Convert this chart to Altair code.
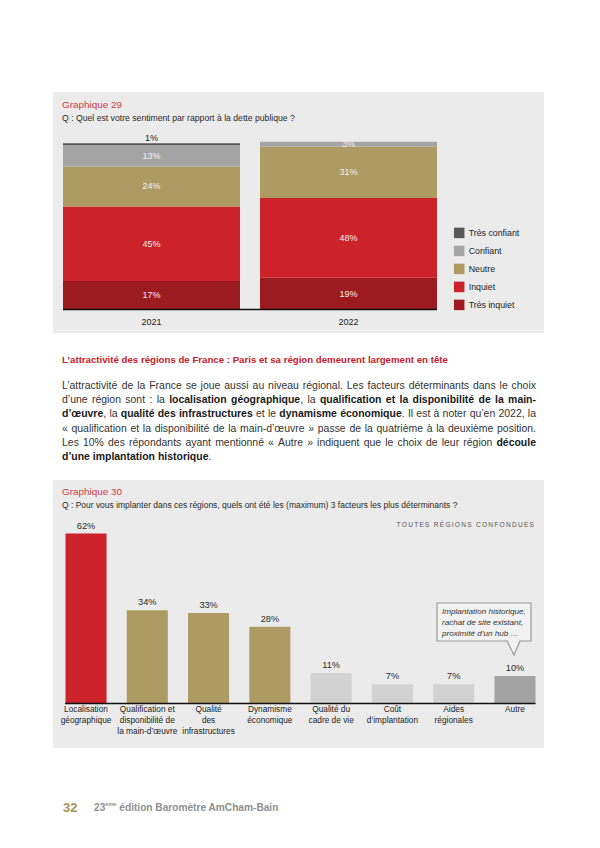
import altair as alt
import pandas as pd

# ---------------- data ----------------
annees = ["2021", "2022"]
sentiments = ["Très confiant", "Confiant", "Neutre", "Inquiet", "Très inquiet"]
valeurs_2021 = [1, 13, 24, 45, 17]
valeurs_2022 = [0, 3, 31, 48, 19]
couleurs_sentiments = ["#585858", "#a4a4a4", "#ae9b63", "#cc2229", "#9c1b20"]

facteurs = [
    "Localisation\ngéographique",
    "Qualification et\ndisponibilité de\nla main-d’œuvre",
    "Qualité\ndes\ninfrastructures",
    "Dynamisme\néconomique",
    "Qualité du\ncadre de vie",
    "Coût\nd’implantation",
    "Aides\nrégionales",
    "Autre",
]
pourcentages = [62, 34, 33, 28, 11, 7, 7, 10]
groupes = ["premier", "majeur", "majeur", "majeur", "secondaire", "secondaire", "secondaire", "autre"]
groupes_domaine = ["premier", "majeur", "secondaire", "autre"]
couleurs_groupes = ["#cc2229", "#ae9b63", "#d2d2d2", "#a3a3a3"]

titre_29 = "Graphique 29"
question_29 = "Q : Quel est votre sentiment par rapport à la dette publique ?"
titre_30 = "Graphique 30"
question_30 = "Q : Pour vous implanter dans ces régions, quels ont été les (maximum) 3 facteurs les plus déterminants ?"
sous_titre_30 = "TOUTES RÉGIONS CONFONDUES"
intertitre = "L’attractivité des régions de France : Paris et sa région demeurent largement en tête"
paragraphe = [
    [("L’attractivité de la France se joue aussi au niveau régional. Les facteurs déterminants dans le choix", False)],
    [("d’une région sont : la ", False), ("localisation géographique", True), (", la ", False),
     ("qualification et la disponibilité de la main-", True)],
    [("d’œuvre", True), (", la ", False), ("qualité des infrastructures", True), (" et le ", False),
     ("dynamisme économique", True), (". Il est à noter qu’en 2022, la", False)],
    [("« qualification et la disponibilité de la main-d’œuvre » passe de la quatrième à la deuxième position.", False)],
    [("Les 10% des répondants ayant mentionné « Autre » indiquent que le choix de leur région ", False),
     ("découle", True)],
    [("d’une implantation historique", True), (".", False)],
]
bulle = ["Implantation historique,", "rachat de site existant,", "proximité d’un hub …"]
numero_page = "32"
pied = ["23", "ème", "édition Baromètre AmCham-Bain"]

FONT = "Liberation Sans"

# ---------------- text metrics (Arial / Liberation Sans) ----------------
REG, BOLD = {}, {}
for ch, w in zip("ABCDEFGHIJKLMNOPQRSTUVWXYZ",
                 [667, 667, 722, 722, 667, 611, 778, 722, 278, 500, 667, 556, 833, 722, 778, 667, 778, 722, 667, 611, 722, 667, 944, 667, 667, 611]):
    REG[ch] = w
for ch, w in zip("abcdefghijklmnopqrstuvwxyz",
                 [556, 556, 500, 556, 556, 278, 556, 556, 222, 222, 500, 222, 833, 556, 556, 556, 556, 333, 500, 278, 556, 500, 722, 500, 500, 500]):
    REG[ch] = w
for ch, w in zip("ABCDEFGHIJKLMNOPQRSTUVWXYZ",
                 [722, 722, 722, 722, 667, 611, 778, 722, 278, 556, 722, 611, 833, 722, 778, 667, 778, 722, 667, 611, 722, 667, 944, 667, 667, 611]):
    BOLD[ch] = w
for ch, w in zip("abcdefghijklmnopqrstuvwxyz",
                 [556, 611, 556, 611, 556, 333, 611, 611, 278, 278, 556, 278, 889, 611, 611, 611, 611, 389, 556, 333, 611, 556, 778, 556, 556, 500]):
    BOLD[ch] = w
REG.update({" ": 278, ".": 278, ",": 278, ":": 278, ";": 278, "%": 889, "’": 222, "'": 191, "-": 333,
            "«": 556, "»": 556, "?": 556, "(": 333, ")": 333, "…": 1000, "œ": 944})
BOLD.update({" ": 278, ".": 278, ",": 278, ":": 333, ";": 333, "%": 889, "’": 278, "'": 238, "-": 333,
             "«": 556, "»": 556, "?": 611, "(": 333, ")": 333, "…": 1000, "œ": 944})
ACC = {"é": "e", "è": "e", "ê": "e", "ë": "e", "à": "a", "â": "a", "ô": "o", "û": "u", "ù": "u",
       "î": "i", "ï": "i", "ç": "c", "É": "E", "È": "E"}


def units(s, bold=False):
    tab = BOLD if bold else REG
    return sum(tab.get(ACC.get(c, c), 556) for c in s)


def fit(s, width, bold=False):
    return width * 1000.0 / units(s, bold)


def P(v):
    return v - 8


def txt_layer(rows, size, color, weight="normal", align="left", baseline="middle", italic=False, dy=0):
    df = pd.DataFrame(rows, columns=["x", "y", "t"])
    return alt.Chart(df).mark_text(
        align=align, baseline=baseline, fontSize=size, color=color, fontWeight=weight,
        fontStyle="italic" if italic else "normal", font=FONT, dy=dy
    ).encode(
        x=alt.X("x:Q", scale=None, axis=None),
        y=alt.Y("y:Q", scale=None, axis=None),
        text="t:N",
    )


one = pd.DataFrame({"k": [0]})


def rect(x1, x2, y1, y2, fill, stroke=None, sw=0):
    kw = dict(fill=fill)
    if stroke:
        kw.update(stroke=stroke, strokeWidth=sw)
    return alt.Chart(one).mark_rect(**kw).encode(
        x=alt.value(P(x1)), x2=alt.value(P(x2)), y=alt.value(P(y1)), y2=alt.value(P(y2)))


def rule(x1, x2, y, color="#111111", sw=1.5):
    return alt.Chart(one).mark_rule(color=color, strokeWidth=sw).encode(
        x=alt.value(P(x1)), x2=alt.value(P(x2)), y=alt.value(P(y)))


# ---------------- panels ----------------
PANEL = "#ebebeb"
panel1 = rect(53, 544, 92, 333, PANEL)
panel2 = rect(53, 544, 480, 748, PANEL)

# ---------------- chart 29 ----------------
rows29 = []
for annee, vals in zip(annees, [valeurs_2021, valeurs_2022]):
    cum = 0
    for i in reversed(range(len(sentiments))):
        v = vals[i]
        rows29.append(dict(annee=annee, sentiment=sentiments[i], valeur=v, debut=cum, fin=cum + v,
                           milieu=cum + v / 2, etiquette=f"{v}%"))
        cum += v
df29 = pd.DataFrame(rows29)

x29 = alt.X("annee:N", scale=alt.Scale(domain=annees, range=[P(63), P(437)], paddingInner=0.1015, paddingOuter=0),
            axis=None)
y29 = alt.Scale(domain=[0, 100], range=[P(309.3), P(143.3)])

bars29 = alt.Chart(df29[df29.valeur > 0]).mark_bar().encode(
    x=x29,
    y=alt.Y("debut:Q", scale=y29, axis=None),
    y2="fin:Q",
    color=alt.Color("sentiment:N", scale=alt.Scale(domain=sentiments, range=couleurs_sentiments),
                    legend=alt.Legend(title=None, orient="none", legendX=P(453.7), legendY=P(227.4),
                                      symbolType="square", symbolSize=110, symbolStrokeWidth=0,
                                      symbolOpacity=1, labelFontSize=8.8, labelFont=FONT,
                                      labelColor="#222222", rowPadding=7, labelOffset=4, padding=0)),
)
lab_in = alt.Chart(df29[df29.valeur >= 3]).mark_text(fontSize=9, color="#f4eeee", font=FONT, fontWeight="normal",
                                                     baseline="middle").encode(
    x=x29, y=alt.Y("milieu:Q", scale=y29, axis=None), text="etiquette:N")
lab_top = alt.Chart(df29[(df29.valeur > 0) & (df29.valeur < 3)]).mark_text(
    fontSize=9, color="#222222", font=FONT, fontWeight="normal", baseline="middle", dy=-5).encode(
    x=x29, y=alt.Y("fin:Q", scale=y29, axis=None), text="etiquette:N")
years = alt.Chart(pd.DataFrame({"annee": annees})).mark_text(fontSize=9, color="#222222", font=FONT,
                                                              fontWeight="normal", baseline="middle").encode(
    x=x29, y=alt.value(P(321.7)), text="annee:N")
layer29 = alt.layer(bars29, lab_in, lab_top, years)
axis29 = rule(63, 437, 309.5)

# ---------------- chart 30 ----------------
df30 = pd.DataFrame({"facteur": facteurs, "pct": pourcentages, "groupe": groupes,
                     "etiquette": [f"{v}%" for v in pourcentages]})
x30 = alt.X("facteur:N", sort=facteurs,
            scale=alt.Scale(domain=facteurs, range=[P(65.5), P(535.5)], paddingInner=0.33, paddingOuter=0),
            axis=None)
y30 = alt.Scale(domain=[0, 100], range=[P(703.5), P(703.5 - 274)])
bars30 = alt.Chart(df30).mark_bar().encode(
    x=x30, y=alt.Y("pct:Q", scale=y30, axis=None),
    color=alt.Color("groupe:N", scale=alt.Scale(domain=groupes_domaine, range=couleurs_groupes), legend=None))
val30 = alt.Chart(df30).mark_text(fontSize=9.2, color="#2a2a2a", font=FONT, fontWeight="normal",
                                  baseline="middle", dy=-8).encode(
    x=x30, y=alt.Y("pct:Q", scale=y30, axis=None), text="etiquette:N")
cat30 = alt.Chart(df30).mark_text(fontSize=8.3, color="#222222", font=FONT, fontWeight="normal", baseline="top",
                                  lineBreak="\n", lineHeight=11).encode(
    x=x30, y=alt.value(P(704.5)), text="facteur:N")
layer30 = alt.layer(bars30, val30, cat30)
axis30 = rule(65, 535.5, 703.5)

# ---------------- callout ----------------
BOX = "#f1f1f1"
BORDER = "#9a9a9a"
box = rect(437, 531, 603, 641, BOX, BORDER, 1.2)
tail_df = pd.DataFrame({"x": [P(507), P(514), P(520)], "y": [P(641), P(655), P(641)], "y2": [P(641)] * 3})
tail_fill = alt.Chart(tail_df).mark_area(color=BOX).encode(
    x=alt.X("x:Q", scale=None, axis=None), y=alt.Y("y:Q", scale=None, axis=None), y2="y2:Q")
tail_cover = rect(507.6, 519.4, 639.8, 642.2, BOX)
tail_line = alt.Chart(tail_df).mark_line(color=BORDER, strokeWidth=1.2).encode(
    x=alt.X("x:Q", scale=None, axis=None), y=alt.Y("y:Q", scale=None, axis=None))
s_bulle = fit(bulle[0], 84)
bulle_txt = txt_layer([(P(442), P(612 + 11 * i), t) for i, t in enumerate(bulle)], s_bulle, "#333333", italic=True)

# ---------------- titles ----------------
RED_T = "#cf3a43"
t29 = txt_layer([(P(62), P(105), titre_29)], fit(titre_29, 60), RED_T)
q29 = txt_layer([(P(62), P(118), question_29)], fit(question_29, 233), "#2a2a2a")
t30 = txt_layer([(P(62), P(492), titre_30)], fit(titre_30, 60), RED_T)
q30 = txt_layer([(P(62), P(505), question_30)], fit(question_30, 396), "#2a2a2a")

# letter-spaced subtitle, right edge at 534
s_sub = 6.6
nat = units(sous_titre_30) * s_sub / 1000
ls = (137.5 - nat) / (len(sous_titre_30) - 1)
sub_rows = []
xc = P(534) - 137.5
for c in sous_titre_30:
    if c != " ":
        sub_rows.append((xc, P(525), c))
    xc += units(c) * s_sub / 1000 + ls
sub30 = txt_layer(sub_rows, s_sub, "#555555")

# heading
head = txt_layer([(P(62), P(360), intertitre)], fit(intertitre, 387, True), "#c8202b", weight="bold")

# justified paragraph
W = 474
max_units = max(sum(units(t, b) for t, b in runs) for runs in paragraphe[:-1])
size_p = 0.99 * W * 1000 / max_units
reg_rows, bold_rows = [], []
for li, runs in enumerate(paragraphe):
    chars = [(c, b) for t, b in runs for c in t]
    words, cur = [], []
    for c, b in chars:
        if c == " ":
            if cur:
                words.append(cur)
                cur = []
        else:
            cur.append((c, b))
    if cur:
        words.append(cur)
    wruns = []
    for w in words:
        rr = []
        for c, b in w:
            if rr and rr[-1][1] == b:
                rr[-1][0] += c
            else:
                rr.append([c, b])
        wruns.append(rr)
    wwidth = [sum(units(t, b) for t, b in rr) * size_p / 1000 for rr in wruns]
    if li == len(paragraphe) - 1 or len(wruns) == 1:
        gap = 278 * size_p / 1000
    else:
        gap = (W - sum(wwidth)) / (len(wruns) - 1)
    xx = P(62)
    yy = P(386 + 14.2 * li)
    for rr, ww in zip(wruns, wwidth):
        xr = xx
        for t, b in rr:
            (bold_rows if b else reg_rows).append((xr, yy, t))
            xr += units(t, b) * size_p / 1000
        xx += ww + gap
para_reg = txt_layer(reg_rows, size_p, "#333333")
para_bold = txt_layer(bold_rows, size_p, "#1a1a1a", weight="bold")

# footer
num = txt_layer([(P(63), P(807.5), numero_page)], 13, "#a8935a", weight="bold")
tot_units = units(pied[0], True) + units(" " + pied[2], True) + 0.55 * units(pied[1], True)
s_f = 185 * 1000 / tot_units
x_f = P(94)
x_sup = x_f + units(pied[0], True) * s_f / 1000
x_rest = x_sup + 0.55 * units(pied[1], True) * s_f / 1000 + units(" ", True) * s_f / 1000
foot1 = txt_layer([(x_f, P(807.5), pied[0]), (x_rest, P(807.5), pied[2])], s_f, "#8f8f8f", weight="bold")
foot2 = txt_layer([(x_sup, P(807.5 - 0.35 * s_f), pied[1])], 0.55 * s_f, "#8f8f8f", weight="bold")

chart = alt.layer(
    panel1, panel2,
    layer29, axis29,
    layer30, axis30,
    box, tail_fill, tail_cover, tail_line, bulle_txt,
    t29, q29, t30, q30, sub30, head, para_reg, para_bold, num, foot1, foot2,
).resolve_scale(
    x="independent", y="independent", color="independent"
).properties(
    width=584, height=832, padding=0, autosize=alt.AutoSizeParams(type="none"), background="white"
).configure_view(stroke=None)

chart.save("out.html", embed_options={"renderer": "svg", "actions": False})
